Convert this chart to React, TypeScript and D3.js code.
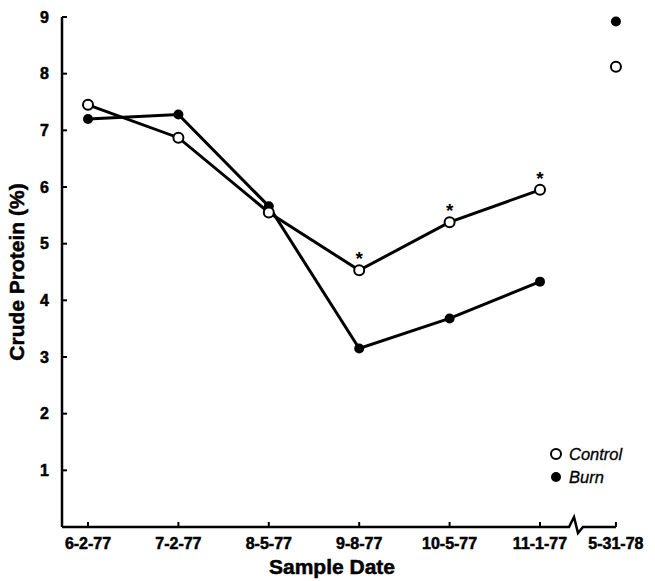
import React from "react";
import * as d3 from "d3";

// sample dates (categories) and their slot on the x axis (last one sits past the break)
const dates = ["6-2-77", "7-2-77", "8-5-77", "9-8-77", "10-5-77", "11-1-77", "5-31-78"];
const slots = [0, 1, 2, 3, 4, 5, 5.84];

// crude protein (%)
const control = [7.45, 6.87, 5.55, 4.53, 5.38, 5.95, 8.12];
const burn = [7.2, 7.28, 5.66, 3.15, 3.68, 4.33, 8.92];

// control points flagged as significant
const starred = [false, false, false, true, true, true, false];

const yTicks = [1, 2, 3, 4, 5, 6, 7, 8, 9];

const W = 655;
const H = 581;
const font = "'Liberation Sans', Arial, Helvetica, sans-serif";

export default function App() {
  const x = d3.scaleLinear().domain([0, 5]).range([88, 540]);
  const y = d3.scaleLinear().domain([0, 9]).range([527, 17]);
  const x0 = 62;
  const y0 = y(0);
  const xEnd = x(slots[6]);

  // connected part excludes the last (1978) sample
  const idx = d3.range(6);
  const path = (vals: number[]) =>
    d3
      .line<number>()
      .x((i) => x(slots[i]))
      .y((i) => y(vals[i]))(idx) || "";

  // x axis with a break before the last date
  const bx = 569;
  const axisPath = [
    `M${x0},${y0}`,
    `L${bx},${y0}`,
    `L${bx + 5},${y0 - 10}`,
    `L${bx + 9},${y0 + 6}`,
    `L${bx + 14},${y0}`,
    `L${xEnd},${y0}`,
  ].join(" ");

  const heavy = { stroke: "#000", strokeWidth: 0.5 };

  return (
    <svg width={W} height={H} style={{ position: "absolute", left: 0, top: 0, background: "#fff" }}>
      <g fontFamily={font} fill="#000">
        {/* y axis */}
        <line x1={x0} x2={x0} y1={y(9)} y2={y0} stroke="#000" strokeWidth={2.5} />
        {yTicks.map((t) => (
          <g key={t}>
            <line x1={x0} x2={x0 + 5} y1={y(t)} y2={y(t)} stroke="#000" strokeWidth={2} />
            <text x={x0 - 13} y={y(t)} dy="0.36em" textAnchor="end" fontSize={16} fontWeight="bold" {...heavy}>
              {t}
            </text>
          </g>
        ))}
        <text
          transform={`translate(24,${y(4.5)}) rotate(-90)`}
          textAnchor="middle"
          fontSize={21}
          fontWeight="bold"
          {...heavy}
        >
          Crude Protein (%)
        </text>

        {/* x axis */}
        <path d={axisPath} fill="none" stroke="#000" strokeWidth={2.5} strokeLinejoin="miter" />
        {dates.map((d, i) => (
          <g key={d}>
            <line
              x1={x(slots[i])}
              x2={x(slots[i])}
              y1={y0}
              y2={y0 - 5}
              stroke="#000"
              strokeWidth={2}
            />
            <text x={x(slots[i])} y={y0 + 22} textAnchor="middle" fontSize={16} fontWeight="bold" {...heavy}>
              {d}
            </text>
          </g>
        ))}
        <text x={332} y={y0 + 47} textAnchor="middle" fontSize={21} fontWeight="bold" {...heavy}>
          Sample Date
        </text>

        {/* series lines */}
        <path d={path(control)} fill="none" stroke="#000" strokeWidth={3} />
        <path d={path(burn)} fill="none" stroke="#000" strokeWidth={3} />

        {/* markers */}
        {burn.map((v, i) => (
          <circle key={"b" + i} cx={x(slots[i])} cy={y(v)} r={5} fill="#000" />
        ))}
        {control.map((v, i) => (
          <circle
            key={"c" + i}
            cx={x(slots[i])}
            cy={y(v)}
            r={5}
            fill="#fff"
            stroke="#000"
            strokeWidth={2}
          />
        ))}
        {control.map((v, i) =>
          starred[i] ? (
            <text
              key={"s" + i}
              x={x(slots[i])}
              y={y(v) - 5}
              textAnchor="middle"
              fontSize={19}
              fontWeight="bold"
            >
              *
            </text>
          ) : null
        )}

        {/* legend */}
        <circle cx={556} cy={454} r={5} fill="#fff" stroke="#000" strokeWidth={2} />
        <text x={569} y={454} dy="0.36em" fontSize={16.5} fontStyle="italic" stroke="#000" strokeWidth={0.3}>
          Control
        </text>
        <circle cx={556} cy={477} r={5} fill="#000" />
        <text x={569} y={477} dy="0.36em" fontSize={16.5} fontStyle="italic" stroke="#000" strokeWidth={0.3}>
          Burn
        </text>
      </g>
    </svg>
  );
}
